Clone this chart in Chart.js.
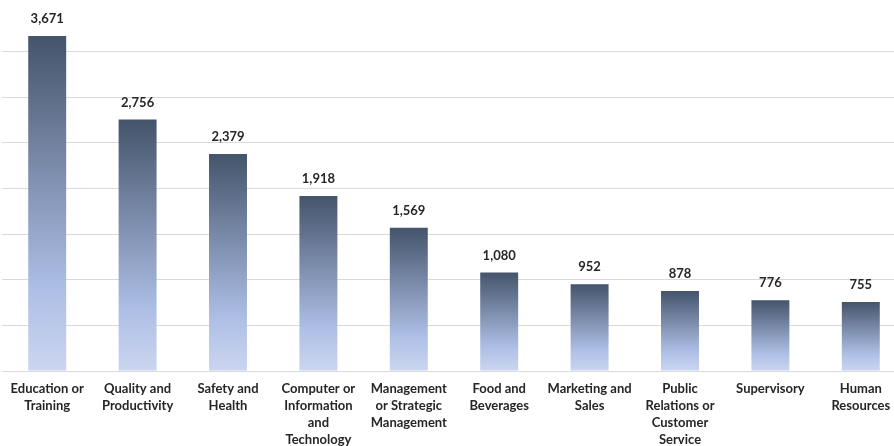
<!DOCTYPE html>
<html>
<head>
<meta charset="utf-8">
<script src="https://cdn.jsdelivr.net/npm/chart.js@4"></script>
<style>
html,body{margin:0;padding:0;background:#fff;overflow:hidden;}
#wrap{width:912px;height:446px;position:relative;}
</style>
</head>
<body>
<div id="wrap"><canvas id="c"></canvas></div>
<script>
const categories = [
  ["Education or","Training"],
  ["Quality and","Productivity"],
  ["Safety and","Health"],
  ["Computer or","Information","and","Technology"],
  ["Management","or Strategic","Management"],
  ["Food and","Beverages"],
  ["Marketing and","Sales"],
  ["Public","Relations or","Customer","Service"],
  ["Supervisory"],
  ["Human","Resources"]
];
const values = [3671, 2756, 2379, 1918, 1569, 1080, 952, 878, 776, 755];
const yMax = 4000;
const yStep = 500;

const FONT = "Lato, 'Open Sans', sans-serif";

function barGradient(ctx) {
  const chart = ctx.chart;
  const ys = chart.scales && chart.scales.y;
  if (!ys || ctx.type !== 'data') return '#8394b5';
  const top = ys.getPixelForValue(ctx.raw);
  const base = ys.getPixelForValue(0);
  if (!isFinite(top) || !isFinite(base) || top === base) return '#8394b5';
  const g = chart.ctx.createLinearGradient(0, top, 0, base);
  g.addColorStop(0, '#44546a');
  g.addColorStop(0.75, '#adbee6');
  g.addColorStop(1, '#cbd6ef');
  return g;
}

const valueLabels = {
  id: 'valueLabels',
  afterDatasetsDraw(chart) {
    const c = chart.ctx;
    const meta = chart.getDatasetMeta(0);
    c.save();
    c.font = "bold 13px " + FONT;
    c.fillStyle = '#262626';
    c.textAlign = 'center';
    c.textBaseline = 'middle';
    meta.data.forEach((el, i) => {
      c.fillText(values[i].toLocaleString('en-US'), el.x, el.y - 17);
    });
    c.restore();
  }
};

new Chart(document.getElementById('c'), {
  type: 'bar',
  data: {
    labels: categories,
    datasets: [{
      data: values,
      backgroundColor: barGradient,
      borderWidth: 0,
      categoryPercentage: 1,
      barPercentage: 0.42
    }]
  },
  options: {
    responsive: true,
    maintainAspectRatio: false,
    animation: false,
    devicePixelRatio: 1,
    layout: { padding: { left: 2, right: 6, top: 6, bottom: 0 } },
    plugins: { legend: { display: false }, tooltip: { enabled: false } },
    scales: {
      x: {
        grid: { display: false, drawTicks: false },
        border: { display: true, color: '#d9d9d9', width: 1 },
        afterFit: (scale) => { scale.height = 75; },
        ticks: {
          color: '#262626',
          padding: 9,
          maxRotation: 0,
          autoSkip: false,
          font: { family: FONT, size: 13, weight: 'bold', lineHeight: 1.31 }
        }
      },
      y: {
        min: 0,
        max: yMax,
        ticks: { display: false, stepSize: yStep },
        grid: {
          drawTicks: false,
          color: (ctx) => (ctx.tick && ctx.tick.value >= yMax) ? 'rgba(0,0,0,0)' : '#d9d9d9',
          lineWidth: 1
        },
        border: { display: false }
      }
    }
  },
  plugins: [valueLabels]
});
</script>
</body>
</html>
